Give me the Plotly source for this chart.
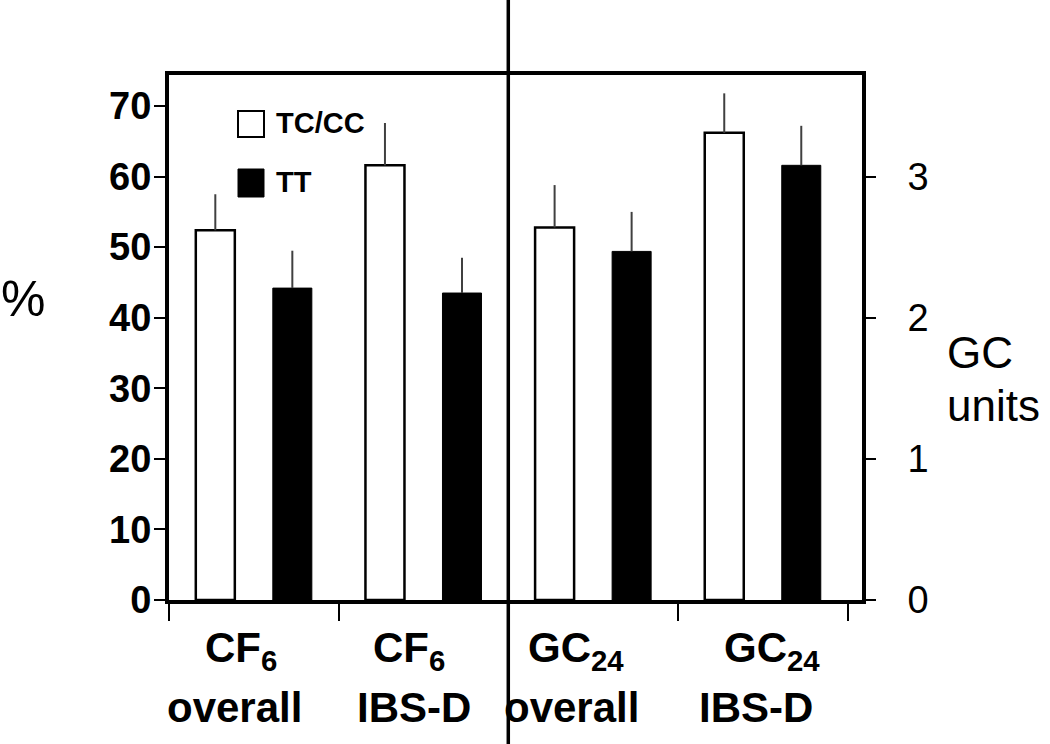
import plotly.graph_objects as go

# ---- data ----
categories = ["CF6 overall", "CF6 IBS-D", "GC24 overall", "GC24 IBS-D"]
pct_categories = categories[:2]
gc_categories = categories[2:]

tccc_pct = [52.4, 61.6]
tccc_pct_err = [5.1, 6.0]
tt_pct = [44.2, 43.5]
tt_pct_err = [5.3, 5.0]

tccc_gc = [2.64, 3.31]
tccc_gc_err = [0.30, 0.28]
tt_gc = [2.47, 3.08]
tt_gc_err = [0.28, 0.28]

left_ticks = [0, 10, 20, 30, 40, 50, 60, 70]
right_ticks = [0, 1, 2, 3]

label_line1 = ["CF<sub>6</sub>", "CF<sub>6</sub>", "GC<sub>24</sub>", "GC<sub>24</sub>"]
label_line2 = ["overall", "IBS-D", "overall", "IBS-D"]
series_names = ["TC/CC", "TT"]

FONT = "Liberation Sans, Arial, Helvetica, sans-serif"
W, H = 1050, 744
ML, MR, MT, MB = 169, 188, 75, 144
PW, PH = W - ML - MR, H - MT - MB

BAR_W = 0.23
OFF_WHITE = -0.342
OFF_BLACK = 0.112

def err(arr):
    return dict(type="data", array=arr, arrayminus=[0] * len(arr), symmetric=False,
                width=0, thickness=2, color="#404040")

fig = go.Figure()
fig.add_trace(go.Bar(x=pct_categories, y=tccc_pct, name=series_names[0], yaxis="y",
                     width=BAR_W, offset=OFF_WHITE, error_y=err(tccc_pct_err),
                     marker=dict(color="white", line=dict(color="black", width=2.5)),
                     showlegend=False))
fig.add_trace(go.Bar(x=pct_categories, y=tt_pct, name=series_names[1], yaxis="y",
                     width=BAR_W, offset=OFF_BLACK, error_y=err(tt_pct_err),
                     marker=dict(color="black", line=dict(color="black", width=1)),
                     showlegend=False))
fig.add_trace(go.Bar(x=gc_categories, y=tccc_gc, name=series_names[0], yaxis="y2",
                     width=BAR_W, offset=OFF_WHITE, error_y=err(tccc_gc_err),
                     marker=dict(color="white", line=dict(color="black", width=2.5)),
                     showlegend=False))
fig.add_trace(go.Bar(x=gc_categories, y=tt_gc, name=series_names[1], yaxis="y2",
                     width=BAR_W, offset=OFF_BLACK, error_y=err(tt_gc_err),
                     marker=dict(color="black", line=dict(color="black", width=1)),
                     showlegend=False))

def px_x(px):
    return (px - ML) / PW

def px_y(py):
    return (MT + PH - py) / PH

shapes = []
annotations = []

# divider line at category boundary
shapes.append(dict(type="line", xref="x", yref="paper", x0=1.5, x1=1.5,
                   y0=px_y(H + 5), y1=px_y(-5), line=dict(color="black", width=3.5)))

# legend boxes
shapes.append(dict(type="rect", xref="paper", yref="paper",
                   x0=px_x(238), x1=px_x(264), y0=px_y(137), y1=px_y(111),
                   fillcolor="white", line=dict(color="black", width=2)))
shapes.append(dict(type="rect", xref="paper", yref="paper",
                   x0=px_x(238), x1=px_x(264), y0=px_y(197), y1=px_y(169),
                   fillcolor="black", line=dict(color="black", width=1)))
bold = dict(family=FONT, color="black", weight="bold")
annotations.append(dict(text=series_names[0], xref="paper", yref="paper",
                        x=px_x(274), y=px_y(123), xanchor="left", yanchor="middle",
                        showarrow=False, font=dict(bold, size=29)))
annotations.append(dict(text=series_names[1], xref="paper", yref="paper",
                        x=px_x(274), y=px_y(182), xanchor="left", yanchor="middle",
                        showarrow=False, font=dict(bold, size=29)))

# category labels
shift1 = [-13, -14, -17, 9]
shift2 = [-19, -9, -22, -7]
for i, cat in enumerate(categories):
    annotations.append(dict(text=label_line1[i], xref="x", yref="paper",
                            x=cat, y=px_y(650), xshift=shift1[i], xanchor="center",
                            yanchor="middle", showarrow=False,
                            font=dict(bold, size=42)))
    annotations.append(dict(text=label_line2[i], xref="x", yref="paper",
                            x=cat, y=px_y(707), xshift=shift2[i], xanchor="center",
                            yanchor="middle", showarrow=False,
                            font=dict(bold, size=42)))

# axis titles
annotations.append(dict(text="%", xref="paper", yref="paper", x=px_x(23), y=px_y(299),
                        xanchor="center", yanchor="middle", showarrow=False,
                        font=dict(family=FONT, size=50, color="black")))
annotations.append(dict(text="GC", xref="paper", yref="paper", x=px_x(945), y=px_y(352),
                        xanchor="left", yanchor="middle", showarrow=False,
                        font=dict(family=FONT, size=44, color="black")))
annotations.append(dict(text="units", xref="paper", yref="paper", x=px_x(945), y=px_y(405),
                        xanchor="left", yanchor="middle", showarrow=False,
                        font=dict(family=FONT, size=44, color="black")))

left_top = 74.4
fig.update_layout(
    width=W, height=H,
    margin=dict(l=ML, r=MR, t=MT, b=MB),
    paper_bgcolor="white", plot_bgcolor="white",
    showlegend=False,
    shapes=shapes, annotations=annotations,
    xaxis=dict(type="category", categoryorder="array", categoryarray=categories,
               range=[-0.5, 3.585], showticklabels=False, tickson="boundaries",
               ticks="outside", ticklen=17, tickwidth=2, tickcolor="black",
               showline=True, linecolor="black", linewidth=4, mirror=True,
               showgrid=False, zeroline=False),
    yaxis=dict(range=[0, left_top], tickvals=left_ticks, ticks="outside", ticklen=11,
               tickwidth=2, tickcolor="black", showline=True, linecolor="black",
               linewidth=4, mirror=True, showgrid=False, zeroline=False,
               tickfont=dict(bold, size=38),
               ticklabelstandoff=-5),
    yaxis2=dict(range=[0, left_top / 20], tickvals=right_ticks, overlaying="y",
                side="right", anchor="x", ticks="outside", ticklen=10, tickwidth=2,
                tickcolor="black", showline=True, linecolor="black", linewidth=4,
                showgrid=False, zeroline=False,
                tickfont=dict(family=FONT, size=38, color="black"),
                ticklabelstandoff=24),
)

fig.write_html("out.html", config={"displayModeBar": False},
               post_script="document.body.style.margin='0';")
